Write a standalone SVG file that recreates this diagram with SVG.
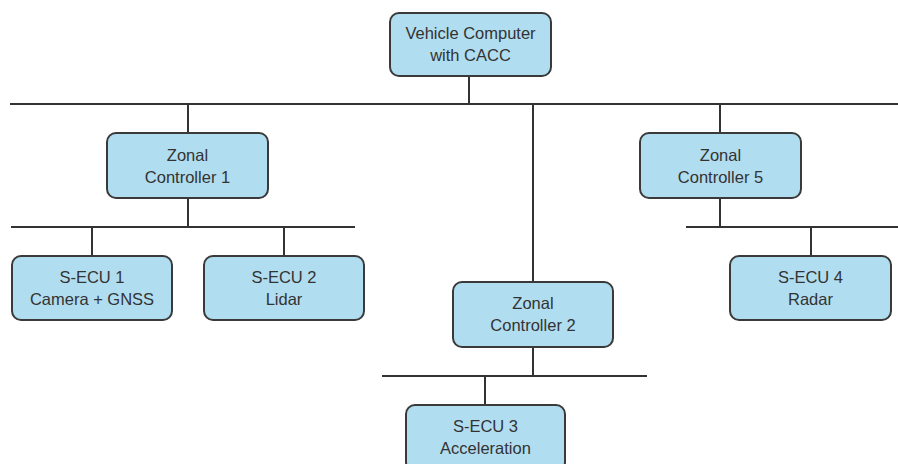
<svg xmlns="http://www.w3.org/2000/svg" width="898" height="464" viewBox="0 0 898 464">
  <style>
    .box { fill: #b1ddf0; stroke: #3a3a3a; stroke-width: 2; }
    .lbl { font-family: "Liberation Sans", Arial, sans-serif; font-size: 16.5px; fill: #333333; text-anchor: middle; dominant-baseline: central; }
    .wire { stroke: #333333; stroke-width: 2; fill: none; }
  </style>
  <rect width="898" height="464" fill="#ffffff"/>

  <!-- buses and drops -->
  <g id="connectors">
    <!-- main backbone -->
    <line class="wire" x1="10" y1="104" x2="898" y2="104"/>
    <line class="wire" x1="469" y1="76" x2="469" y2="104"/>
    <line class="wire" x1="188" y1="104" x2="188" y2="133"/>
    <line class="wire" x1="533" y1="104" x2="533" y2="282"/>
    <line class="wire" x1="720" y1="104" x2="720" y2="133"/>
    <!-- zone 1 bus -->
    <line class="wire" x1="188" y1="198" x2="188" y2="227"/>
    <line class="wire" x1="11" y1="227" x2="355" y2="227"/>
    <line class="wire" x1="92" y1="227" x2="92" y2="256"/>
    <line class="wire" x1="284" y1="227" x2="284" y2="256"/>
    <!-- zone 2 bus -->
    <line class="wire" x1="533" y1="347" x2="533" y2="376"/>
    <line class="wire" x1="382" y1="376" x2="647" y2="376"/>
    <line class="wire" x1="485" y1="376" x2="485" y2="405"/>
    <!-- zone 5 bus -->
    <line class="wire" x1="720" y1="198" x2="720" y2="227"/>
    <line class="wire" x1="686" y1="227" x2="898" y2="227"/>
    <line class="wire" x1="811" y1="227" x2="811" y2="256"/>
  </g>

  <g id="vehicle-computer">
    <rect class="box" x="390" y="13" width="161" height="63" rx="9"/>
    <text class="lbl" x="470.5" y="33">Vehicle Computer</text>
    <text class="lbl" x="470.5" y="55">with CACC</text>
  </g>

  <g id="zonal-1">
    <rect class="box" x="107" y="133" width="161" height="65" rx="9"/>
    <text class="lbl" x="187.5" y="155">Zonal</text>
    <text class="lbl" x="187.5" y="177">Controller 1</text>
  </g>

  <g id="zonal-5">
    <rect class="box" x="640" y="133" width="161" height="65" rx="9"/>
    <text class="lbl" x="720.5" y="155">Zonal</text>
    <text class="lbl" x="720.5" y="177">Controller 5</text>
  </g>

  <g id="zonal-2">
    <rect class="box" x="453" y="282" width="160" height="65" rx="9"/>
    <text class="lbl" x="533" y="303">Zonal</text>
    <text class="lbl" x="533" y="325">Controller 2</text>
  </g>

  <g id="secu-1">
    <rect class="box" x="12" y="256" width="160" height="64" rx="9"/>
    <text class="lbl" x="92" y="277">S-ECU 1</text>
    <text class="lbl" x="92" y="299">Camera + GNSS</text>
  </g>

  <g id="secu-2">
    <rect class="box" x="204" y="256" width="160" height="64" rx="9"/>
    <text class="lbl" x="284" y="277">S-ECU 2</text>
    <text class="lbl" x="284" y="299">Lidar</text>
  </g>

  <g id="secu-4">
    <rect class="box" x="730" y="256" width="161" height="64" rx="9"/>
    <text class="lbl" x="810.5" y="277">S-ECU 4</text>
    <text class="lbl" x="810.5" y="299">Radar</text>
  </g>

  <g id="secu-3">
    <rect class="box" x="406" y="405" width="159" height="66" rx="9"/>
    <text class="lbl" x="485.5" y="426">S-ECU 3</text>
    <text class="lbl" x="485.5" y="448">Acceleration</text>
  </g>
</svg>
